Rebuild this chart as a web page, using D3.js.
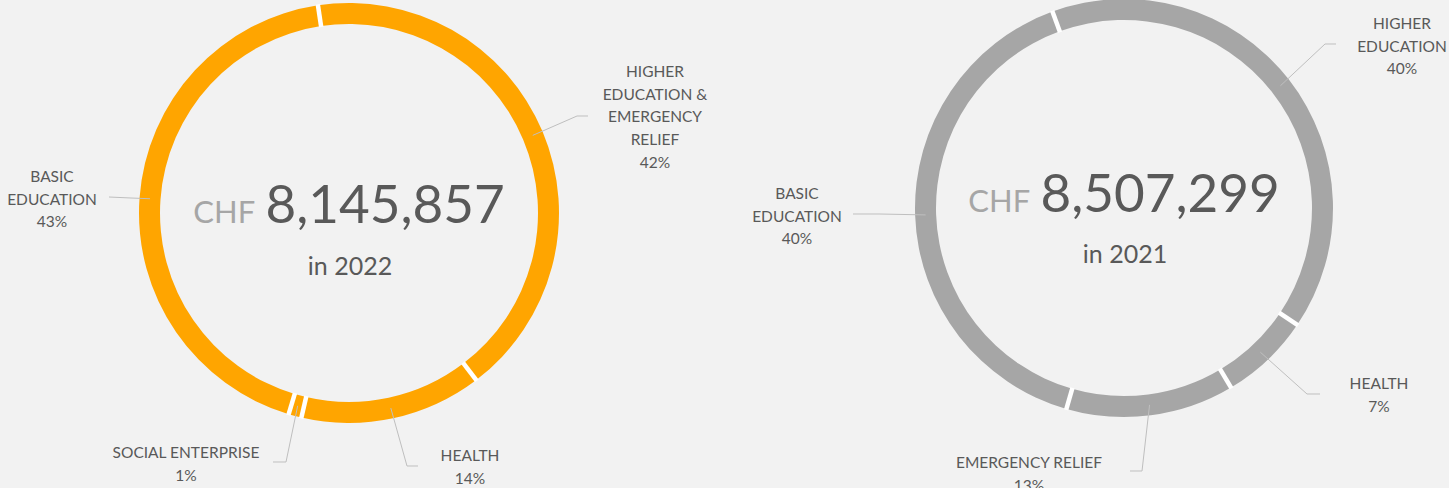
<!DOCTYPE html>
<html>
<head>
<meta charset="utf-8">
<script src="https://cdn.jsdelivr.net/npm/d3@7"></script>
<style>
  html, body { margin: 0; padding: 0; background: #f2f2f2; }
  svg { display: block; }
  text { font-family: Lato, "Open Sans", sans-serif; }
</style>
</head>
<body>
<svg id="chart" width="1449" height="488"></svg>
<script>
// ---- data ----
const categories2022 = ["HIGHER\nEDUCATION &\nEMERGENCY\nRELIEF", "HEALTH", "SOCIAL ENTERPRISE", "BASIC\nEDUCATION"];
const values2022 = [42, 14, 1, 43];
const total2022 = 8145857;
const year2022 = "2022";

const categories2021 = ["HIGHER\nEDUCATION", "HEALTH", "EMERGENCY RELIEF", "BASIC\nEDUCATION"];
const values2021 = [40, 7, 13, 40];
const total2021 = 8507299;
const year2021 = "2021";

const currency = "CHF";

// ---- layout ----
const charts = [
  {
    categories: categories2022, values: values2022, total: total2022, year: year2022,
    color: "#ffa500", cx: 349, cy: 213, r: 210, thick: 21, startDeg: -8.5,
    numBase: 223, yearBase: 275,
    labels: [
      { x: 655, y: 77, elbow: [577, 116], end: [588, 116] },
      { x: 470, y: 461, elbow: [407, 466], end: [418, 466] },
      { x: 186, y: 458, elbow: [286, 462], end: [273, 462] },
      { x: 52,  y: 182, elbow: [131, 198], end: [109, 197] }
    ]
  },
  {
    categories: categories2021, values: values2021, total: total2021, year: year2021,
    color: "#a6a6a6", cx: 1124, cy: 208, r: 209, thick: 21, startDeg: -20,
    numBase: 212, yearBase: 263,
    labels: [
      { x: 1402, y: 29,  elbow: [1325, 44],  end: [1336, 44] },
      { x: 1379, y: 389, elbow: [1307, 394], end: [1320, 394] },
      { x: 1029, y: 468, elbow: [1142, 471], end: [1130, 471] },
      { x: 797,  y: 199, elbow: [880, 214],  end: [853, 214] }
    ]
  }
];

const svg = d3.select("#chart");
svg.append("rect").attr("width", 1449).attr("height", 488).attr("fill", "#f2f2f2");

const lineH = 22.7;
const fmt = d3.format(",");

charts.forEach(c => {
  const g = svg.append("g").attr("transform", `translate(${c.cx},${c.cy})`);
  const start = c.startDeg * Math.PI / 180;
  const pie = d3.pie().sort(null).value(d => d)
    .startAngle(start).endAngle(start + 2 * Math.PI);
  const arcs = pie(c.values);
  const arc = d3.arc().innerRadius(c.r - c.thick).outerRadius(c.r);

  g.selectAll("path.slice").data(arcs).join("path")
    .attr("class", "slice")
    .attr("d", arc)
    .attr("fill", c.color);

  // white separators at slice boundaries
  g.selectAll("line.sep").data(arcs).join("line")
    .attr("class", "sep")
    .attr("x1", d => Math.sin(d.startAngle) * (c.r - c.thick - 1))
    .attr("y1", d => -Math.cos(d.startAngle) * (c.r - c.thick - 1))
    .attr("x2", d => Math.sin(d.startAngle) * (c.r + 1))
    .attr("y2", d => -Math.cos(d.startAngle) * (c.r + 1))
    .attr("stroke", "#ffffff")
    .attr("stroke-width", 4.5);

  // leader lines
  const midR = c.r - c.thick / 2;
  arcs.forEach((d, i) => {
    const a = (d.startAngle + d.endAngle) / 2;
    const p0 = [c.cx + Math.sin(a) * midR, c.cy - Math.cos(a) * midR];
    const L = c.labels[i];
    svg.append("polyline")
      .attr("points", [p0, L.elbow, L.end].map(p => p.join(",")).join(" "))
      .attr("fill", "none")
      .attr("stroke", "#bfbfbf")
      .attr("stroke-width", 1);

    const lines = c.categories[i].split("\n").concat([d.data + "%"]);
    const t = svg.append("text")
      .attr("text-anchor", "middle")
      .attr("fill", "#595959")
      .attr("font-size", 15.5);
    lines.forEach((ln, k) => {
      t.append("tspan").attr("x", L.x).attr("y", L.y + k * lineH).text(ln);
    });
  });

  // center text
  const ct = svg.append("text")
    .attr("x", c.cx).attr("y", c.numBase)
    .attr("text-anchor", "middle");
  ct.append("tspan").attr("fill", "#a6a6a6").attr("font-size", 31).text(currency + " ");
  ct.append("tspan").attr("fill", "#595959").attr("font-size", 53).attr("dx", 3).text(fmt(c.total));

  svg.append("text")
    .attr("x", c.cx + 1).attr("y", c.yearBase)
    .attr("text-anchor", "middle")
    .attr("fill", "#595959")
    .attr("font-size", 25)
    .text("in " + c.year);
});
</script>
</body>
</html>
